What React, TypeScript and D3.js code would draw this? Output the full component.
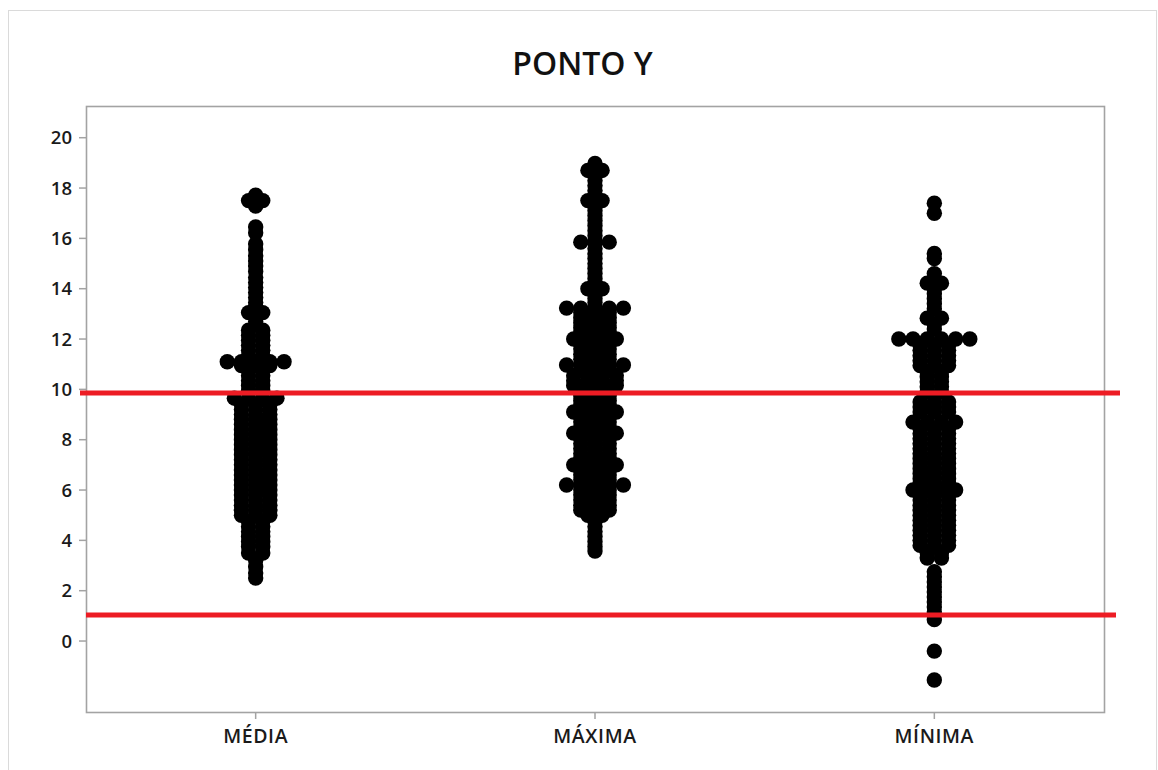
import React from "react";
import * as d3 from "d3";

// Category names along the x axis
const CATEGORIES = ["MÉDIA", "MÁXIMA", "MÍNIMA"];

// Y axis tick values
const Y_TICKS = [0, 2, 4, 6, 8, 10, 12, 14, 16, 18, 20];

// Reference (limit) lines
const UPPER_LIMIT = 9.86;
const LOWER_LIMIT = 1.03;

// Frequency tables: [value, number of observations at that value]
const MEDIA_COUNTS: [number, number][] = [
  [17.72, 1], [17.5, 2], [17.28, 1],
  [16.45, 1], [16.22, 1],
  [15.78, 1], [15.55, 1], [15.3, 1], [15.1, 1], [14.9, 1], [14.68, 1], [14.45, 1],
  [14.25, 1], [14.05, 1], [13.85, 1], [13.65, 1], [13.45, 1], [13.28, 1],
  [13.05, 2], [12.7, 1],
  [12.35, 2], [12.15, 2], [11.95, 2], [11.75, 2], [11.55, 2], [11.35, 2],
  [11.1, 5], [10.95, 3],
  [10.75, 2], [10.55, 2], [10.35, 2], [10.15, 2], [9.95, 2],
  [9.65, 4],
  [9.4, 3], [9.2, 3], [9.0, 3], [8.8, 3], [8.6, 3], [8.4, 3], [8.2, 3], [8.0, 3],
  [7.8, 3], [7.6, 3], [7.4, 3], [7.2, 3], [7.0, 3], [6.8, 3], [6.6, 3], [6.4, 3],
  [6.2, 3], [6.0, 3], [5.8, 3], [5.6, 3], [5.4, 3], [5.2, 3], [5.0, 3],
  [4.75, 2], [4.55, 2], [4.35, 2], [4.15, 2], [3.95, 2], [3.75, 2], [3.5, 2],
  [3.2, 1], [2.95, 1], [2.7, 1], [2.5, 1],
];

const MAXIMA_COUNTS: [number, number][] = [
  [18.98, 1], [18.7, 2], [18.5, 1], [18.3, 1], [18.1, 1], [17.9, 1],
  [17.5, 2], [17.3, 1], [17.1, 1], [16.9, 1], [16.7, 1], [16.5, 1], [16.3, 1], [16.1, 1],
  [15.85, 3], [15.6, 1], [15.4, 1], [15.2, 1], [15.0, 1], [14.8, 1], [14.6, 1],
  [14.4, 1], [14.2, 1],
  [14.0, 2], [13.8, 1], [13.6, 1], [13.45, 1],
  [13.23, 5], [13.05, 3], [12.85, 3], [12.65, 3], [12.45, 3], [12.25, 3],
  [12.0, 4], [11.8, 3], [11.6, 3], [11.4, 3], [11.2, 3],
  [10.97, 5], [10.75, 3], [10.55, 4], [10.35, 4], [10.15, 4],
  [9.95, 3], [9.75, 3], [9.55, 3], [9.35, 3],
  [9.1, 4], [8.9, 3], [8.7, 3], [8.5, 3],
  [8.26, 4], [8.05, 3], [7.85, 3], [7.65, 3], [7.45, 3], [7.25, 3],
  [7.0, 4], [6.8, 3], [6.6, 3], [6.4, 3],
  [6.2, 5], [6.0, 3], [5.8, 3], [5.6, 3], [5.4, 3], [5.2, 3], [5.0, 2],
  [4.75, 1], [4.55, 1], [4.35, 1], [4.15, 1], [3.95, 1], [3.75, 1], [3.58, 1],
];

const MINIMA_COUNTS: [number, number][] = [
  [17.4, 1], [17.0, 1],
  [15.4, 1], [15.2, 1],
  [14.6, 1], [14.22, 2], [14.0, 1], [13.8, 1], [13.6, 1], [13.4, 1], [13.2, 1],
  [12.83, 2], [12.6, 1], [12.4, 1],
  [12.0, 6], [11.75, 3], [11.55, 3], [11.35, 3], [11.15, 3], [10.95, 3],
  [10.7, 2], [10.5, 2], [10.3, 2], [10.1, 2], [9.9, 2],
  [9.5, 3], [9.3, 3], [9.1, 3],
  [8.7, 4], [8.45, 3], [8.25, 3], [8.05, 3], [7.85, 3], [7.65, 3], [7.45, 3],
  [7.25, 3], [7.05, 3], [6.85, 3], [6.65, 3], [6.45, 3], [6.25, 3],
  [6.0, 4], [5.8, 3], [5.6, 3], [5.4, 3], [5.2, 3], [5.0, 3], [4.8, 3], [4.6, 3],
  [4.4, 3], [4.2, 3], [4.0, 3], [3.8, 3],
  [3.5, 2], [3.3, 2],
  [2.75, 1], [2.55, 1], [2.35, 1], [2.15, 1], [1.95, 1], [1.75, 1], [1.55, 1],
  [1.35, 1], [1.15, 1], [0.85, 1],
  [-0.4, 1], [-1.55, 1],
];

const SERIES = [MEDIA_COUNTS, MAXIMA_COUNTS, MINIMA_COUNTS];

const WIDTH = 1158;
const HEIGHT = 770;
const PLOT = { left: 86, right: 1104, top: 106, bottom: 712 };
const DOT_R = 7.7;
const DOT_STEP = 14.2;
const FONT = "'Open Sans', 'Noto Sans', sans-serif";
const AXIS_GRAY = "#a3a3a3";
const RED = "#ed1c24";

export default function App() {
  const y = d3.scaleLinear().domain([-2.82, 21.26]).range([PLOT.bottom, PLOT.top]);
  const x = d3.scaleBand<string>().domain(CATEGORIES).range([PLOT.left, PLOT.right]);
  const cx = (c: string) => (x(c) as number) + x.bandwidth() / 2;

  // Lay each value's observations out side by side, centred on the category
  const dots: { x: number; y: number; key: string }[] = [];
  SERIES.forEach((rows, ci) => {
    const center = cx(CATEGORIES[ci]);
    rows.forEach(([v, n], ri) => {
      for (let i = 0; i < n; i++) {
        dots.push({
          x: center + (i - (n - 1) / 2) * DOT_STEP,
          y: y(v),
          key: `${ci}-${ri}-${i}`,
        });
      }
    });
  });

  return (
    <svg
      width={WIDTH}
      height={HEIGHT}
      style={{ position: "absolute", left: 0, top: 0, background: "#ffffff" }}
      fontFamily={FONT}
    >
      {/* graph border */}
      <rect x={8.5} y={10.5} width={1148} height={780} fill="#ffffff" stroke="#dadada" strokeWidth={1} />

      {/* title */}
      <text x={582.5} y={75} textAnchor="middle" fontSize={32} fontWeight={600} fill="#111">
        PONTO Y
      </text>

      {/* plot frame */}
      <rect
        x={PLOT.left + 0.5}
        y={PLOT.top + 0.5}
        width={PLOT.right - PLOT.left}
        height={PLOT.bottom - PLOT.top}
        fill="#ffffff"
        stroke={AXIS_GRAY}
        strokeWidth={1.6}
      />

      {/* y axis */}
      {Y_TICKS.map((t) => (
        <g key={t}>
          <line x1={79} x2={PLOT.left} y1={y(t)} y2={y(t)} stroke={AXIS_GRAY} strokeWidth={1.5} />
          <text x={72} y={y(t)} dy="0.36em" textAnchor="end" fontSize={18.5} fontWeight={600} fill="#1a1a1a">
            {t}
          </text>
        </g>
      ))}

      {/* x axis */}
      {CATEGORIES.map((c) => (
        <g key={c}>
          <line x1={cx(c)} x2={cx(c)} y1={PLOT.bottom} y2={PLOT.bottom + 7} stroke={AXIS_GRAY} strokeWidth={1.5} />
          <text x={cx(c)} y={743} textAnchor="middle" fontSize={19.5} fontWeight={600} letterSpacing={0.6} fill="#1a1a1a">
            {c}
          </text>
        </g>
      ))}

      {/* observations */}
      <g fill="#000000">
        {dots.map((d) => (
          <circle key={d.key} cx={d.x} cy={d.y} r={DOT_R} />
        ))}
      </g>

      {/* limit lines */}
      <line x1={80} x2={1120} y1={y(UPPER_LIMIT)} y2={y(UPPER_LIMIT)} stroke={RED} strokeWidth={5} />
      <line x1={86} x2={1116} y1={y(LOWER_LIMIT)} y2={y(LOWER_LIMIT)} stroke={RED} strokeWidth={5} />
    </svg>
  );
}
